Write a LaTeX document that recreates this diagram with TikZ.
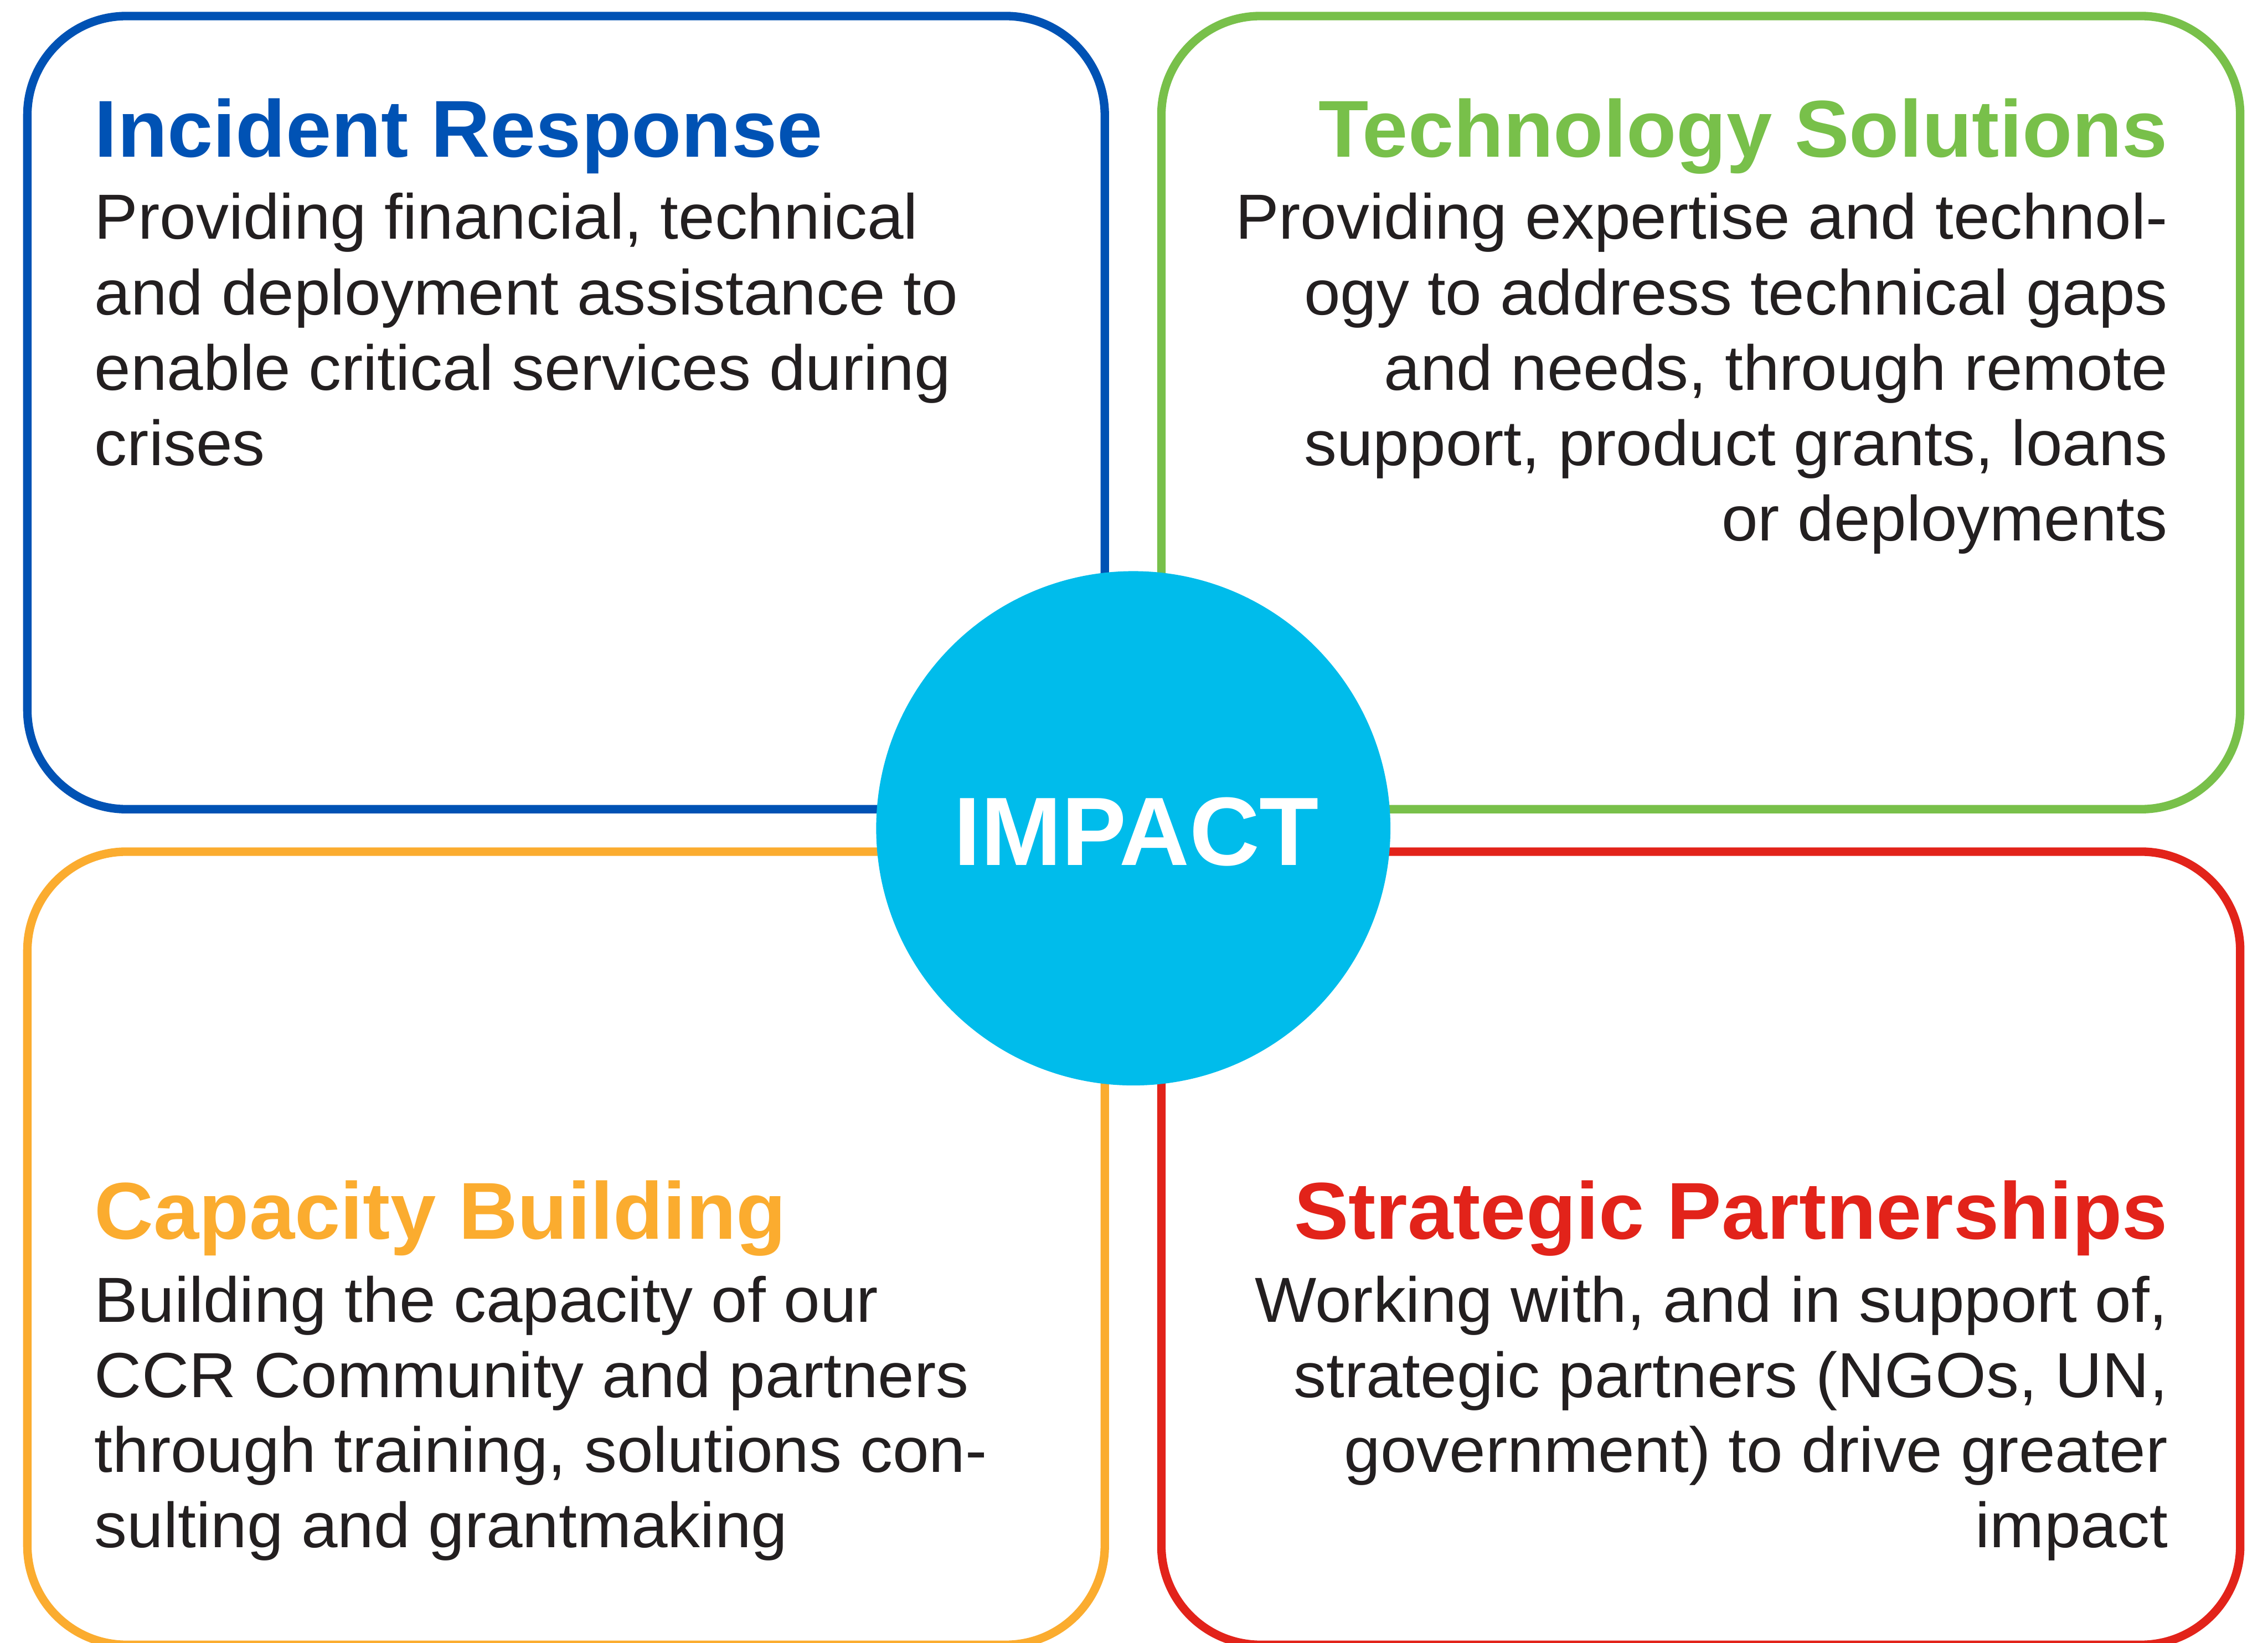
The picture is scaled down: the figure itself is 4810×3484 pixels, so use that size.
\documentclass[tikz,border=0pt]{standalone}
\usepackage{fontspec}
\setmainfont{Liberation Sans}
\newfontfamily\copyface{Liberation Sans}[FakeStretch=1.025]
\newfontfamily\headface{Liberation Sans}[FakeStretch=1.015, UprightFont={* Bold}]
\definecolor{irblue}{RGB}{0,82,180}
\definecolor{tsgreen}{RGB}{120,192,74}
\definecolor{cborange}{RGB}{251,172,47}
\definecolor{spred}{RGB}{226,35,26}
\definecolor{impcyan}{RGB}{0,188,235}
\definecolor{ink}{RGB}{35,31,32}
\begin{document}
\begin{tikzpicture}[x=0.01cm, y=-0.01cm,
  frame/.style={line width=0.18cm, rounded corners=2.1cm},
  heading/.style={inner sep=0pt, font=\headface\fontsize{48.65pt}{58pt}\selectfont},
  copy/.style={inner sep=0pt, text=ink, font=\copyface\fontsize{38.4pt}{46pt}\selectfont},
  lft/.style={anchor=base west},
  rgt/.style={anchor=base east}]
\useasboundingbox (0,0) rectangle (4810,3484);

% four quadrant frames
\draw[frame, irblue]   (58,34)     rectangle (2343,1716);
\draw[frame, tsgreen]  (2463,34)   rectangle (4751,1716);
\draw[frame, cborange] (58,1806)   rectangle (2343,3488);
\draw[frame, spred]    (2463,1806) rectangle (4751,3488);

% central disc
\node[circle, fill=impcyan, inner sep=0pt, minimum size=10.9cm] (hub) at (2403.5,1756.5) {};
\node[inner sep=0pt, anchor=base, text=white, font=\fontsize{58.6pt}{62pt}\selectfont\bfseries] (hublabel) at (2410,1835) {IMPACT};

% Incident Response
\node[heading, lft, text=irblue] (irT) at (200,333) {Incident Response};
\node[copy, lft] (ir1) at (200,507) {Providing financial, technical};
\node[copy, lft] (ir2) at (200,667) {and deployment assistance to};
\node[copy, lft] (ir3) at (200,827) {enable critical services during};
\node[copy, lft] (ir4) at (200,987) {crises};

% Technology Solutions
\node[heading, rgt, text=tsgreen] (tsT) at (4598,333) {Technology Solutions};
\node[copy, rgt] (ts1) at (4598,507) {Providing expertise and technol-};
\node[copy, rgt] (ts2) at (4598,667) {ogy to address technical gaps};
\node[copy, rgt] (ts3) at (4598,827) {and needs, through remote};
\node[copy, rgt] (ts4) at (4598,987) {support, product grants, loans};
\node[copy, rgt] (ts5) at (4598,1147) {or deployments};

% Capacity Building
\node[heading, lft, text=cborange] (cbT) at (200,2627) {Capacity Building};
\node[copy, lft] (cb1) at (200,2804) {Building the capacity of our};
\node[copy, lft] (cb2) at (200,2963) {CCR Community and partners};
\node[copy, lft] (cb3) at (200,3122) {through training, solutions con-};
\node[copy, lft] (cb4) at (200,3281) {sulting and grantmaking};

% Strategic Partnerships
\node[heading, rgt, text=spred] (spT) at (4598,2627) {Strategic Partnerships};
\node[copy, rgt] (sp1) at (4598,2804) {Working with, and in support of,};
\node[copy, rgt] (sp2) at (4598,2963) {strategic partners (NGOs, UN,};
\node[copy, rgt] (sp3) at (4598,3122) {government) to drive greater};
\node[copy, rgt] (sp4) at (4598,3281) {impact};
\end{tikzpicture}
\end{document}
